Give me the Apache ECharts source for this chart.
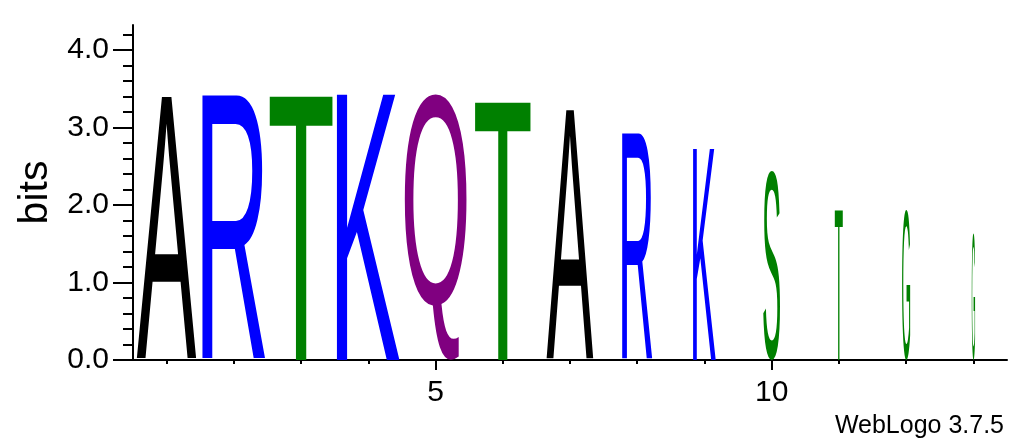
<!DOCTYPE html>
<html><head><meta charset="utf-8">
<script src="https://cdn.jsdelivr.net/npm/echarts@6/dist/echarts.min.js"></script>
<style>html,body{margin:0;padding:0;background:#fff}#c{width:1030px;height:444px}</style>
</head><body><div id="c"></div>
<script>
// ---- data ----
const positions = [1, 2, 3, 4, 5, 6, 7, 8, 9, 10, 11, 12, 13];
const letters = ['A', 'R', 'T', 'K', 'Q', 'T', 'A', 'R', 'K', 'S', 'T', 'G', 'G'];
const heights = [3.40, 3.42, 3.43, 3.43, 3.43, 3.35, 3.23, 2.93, 2.73, 2.46, 1.94, 1.94, 1.63];
const stackWidths = [0.89, 0.94, 0.94, 0.94, 0.92, 0.83, 0.70, 0.45, 0.34, 0.25, 0.12, 0.12, 0.05];
const yMajorTicks = [0, 1, 2, 3, 4];
const yMinorTicks = [0.2, 0.4, 0.6, 0.8, 1.2, 1.4, 1.6, 1.8, 2.2, 2.4, 2.6, 2.8, 3.2, 3.4, 3.6, 3.8, 4.2];
const xLabelTicks = [5, 10];
const colorScheme = { A: '#000000', R: '#0000ff', K: '#0000ff', T: '#008000', S: '#008000', G: '#008000', Q: '#800080' };

const FONT = '"Liberation Sans", Arial, Helvetica, sans-serif';
const GLYPH_FONT = 'normal 200px ' + FONT;

const mctx = document.createElement('canvas').getContext('2d');
const mcache = {};
function measure(ch) {
  if (mcache[ch]) return mcache[ch];
  mctx.font = GLYPH_FONT;
  mctx.textAlign = 'left';
  mctx.textBaseline = 'middle';
  const m = mctx.measureText(ch);
  return (mcache[ch] = {
    left: m.actualBoundingBoxLeft, right: m.actualBoundingBoxRight,
    asc: m.actualBoundingBoxAscent, desc: m.actualBoundingBoxDescent
  });
}

function renderItem(params, api) {
  const pos = api.value(0), h = api.value(1), wf = api.value(2);
  const letter = letters[params.dataIndex];
  const p0 = api.coord([pos - wf / 2, 0]);
  const p1 = api.coord([pos + wf / 2, h]);
  const m = measure(letter);
  const w = p1[0] - p0[0], hh = p0[1] - p1[1];
  const sx = w / (m.left + m.right), sy = hh / (m.asc + m.desc);
  return {
    type: 'text',
    x: p0[0] + m.left * sx,
    y: p1[1] + m.asc * sy,
    scaleX: sx, scaleY: sy,
    style: { text: letter, x: 0, y: 0, font: GLYPH_FONT, fill: colorScheme[letter], align: 'left', verticalAlign: 'middle' }
  };
}

const chart = echarts.init(document.getElementById('c'), null, { renderer: 'canvas' });
const axisLineStyle = { color: '#000', width: 2 };
chart.setOption({
  animation: false,
  backgroundColor: '#fff',
  grid: { left: 133, right: 23, top: 25, bottom: 84, containLabel: false },
  xAxis: [
    {
      type: 'value', min: 0.5, max: 13.5, position: 'bottom',
      axisLine: { show: true, onZero: false, lineStyle: axisLineStyle },
      axisTick: { show: true, customValues: positions, length: 4, lineStyle: { color: '#000', width: 2 } },
      axisLabel: { show: false },
      splitLine: { show: false }
    },
    {
      type: 'value', min: 0.5, max: 13.5, position: 'bottom',
      axisLine: { show: false, onZero: false },
      axisTick: { show: true, customValues: xLabelTicks, length: 10, lineStyle: { color: '#000', width: 2 } },
      axisLabel: { show: true, customValues: xLabelTicks, margin: 18, color: '#000', fontSize: 30, fontFamily: FONT },
      splitLine: { show: false }
    }
  ],
  yAxis: [
    {
      type: 'value', min: 0, max: 4.32, position: 'left',
      name: 'bits', nameLocation: 'middle', nameGap: 77, nameRotate: 90,
      nameTextStyle: { color: '#000', fontSize: 41, fontFamily: FONT },
      axisLine: { show: true, onZero: false, lineStyle: axisLineStyle },
      axisTick: { show: true, customValues: yMajorTicks, length: 20, lineStyle: { color: '#000', width: 2 } },
      axisLabel: { show: true, customValues: yMajorTicks, margin: 24, color: '#000', fontSize: 30, fontFamily: FONT,
        formatter: v => Number(v).toFixed(1) },
      splitLine: { show: false }
    },
    {
      type: 'value', min: 0, max: 4.32, position: 'left',
      axisLine: { show: false, onZero: false },
      axisTick: { show: true, customValues: yMinorTicks, length: 10, lineStyle: { color: '#000', width: 2 } },
      axisLabel: { show: false },
      splitLine: { show: false }
    }
  ],
  graphic: [
    { type: 'text', right: 26, top: 414, style: { text: 'WebLogo 3.7.5', font: '25px ' + FONT, fill: '#000' } }
  ],
  series: [
    {
      type: 'custom', xAxisIndex: 0, yAxisIndex: 0, silent: true,
      renderItem: renderItem,
      data: positions.map((p, i) => [p, heights[i], stackWidths[i]])
    }
  ]
});
</script>
</body></html>
